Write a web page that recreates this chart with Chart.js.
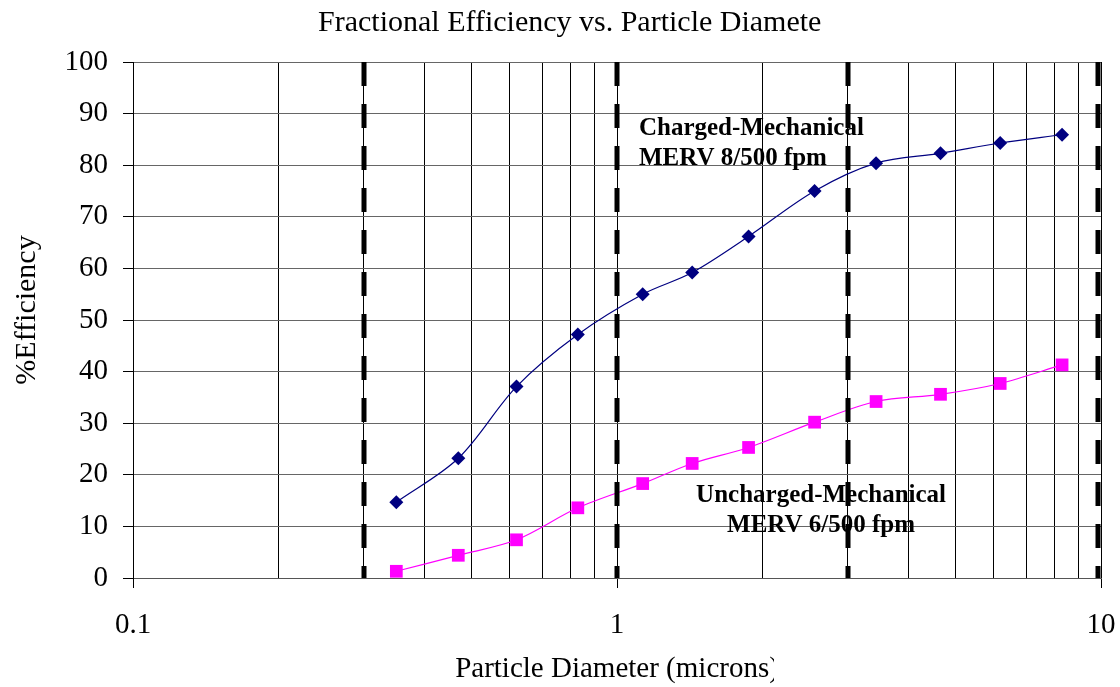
<!DOCTYPE html>
<html>
<head>
<meta charset="utf-8">
<script src="https://cdn.jsdelivr.net/npm/chart.js@4.4.1/dist/chart.umd.min.js"></script>
<style>
  html, body { margin: 0; padding: 0; background: #fff; }
  #wrap { width: 1120px; height: 687px; }
</style>
</head>
<body>
<div id="wrap"><canvas id="chart" width="1120" height="687"></canvas></div>
<script>
// particle diameters (microns) of each measured size bin
const diameters = [0.35, 0.47, 0.62, 0.83, 1.13, 1.43, 1.87, 2.56, 3.43, 4.66, 6.19, 8.31];
const chargedEff = [14.7, 23.2, 37.1, 47.2, 55.0, 59.2, 66.2, 75.0, 80.4, 82.3, 84.3, 85.9];
const unchargedEff = [1.3, 4.4, 7.4, 13.6, 18.3, 22.2, 25.3, 30.2, 34.2, 35.6, 37.7, 41.3];

// log axis grid lines, labelled ticks and heavy dashed reference lines
const xGridValues = [0.1, 0.2, 0.3, 0.4, 0.5, 0.6, 0.7, 0.8, 0.9, 1, 2, 3, 4, 5, 6, 7, 8, 9, 10];
const xTickValues = [0.1, 1, 10];
const xTickLabels = ['0.1', '1', '10'];
const dashedValues = [0.3, 1, 3, 10];

const chartTitle = 'Fractional Efficiency vs. Particle Diameter';
const xTitle = 'Particle Diameter (microns)';
const yTitle = '%Efficiency';

const chargedLabel = ['Charged-Mechanical', 'MERV 8/500 fpm'];
const unchargedLabel = ['Uncharged-Mechanical', 'MERV 6/500 fpm'];

const serif = '"Liberation Serif", "Times New Roman", serif';

const overlay = {
    id: 'overlay',
    afterDatasetsDraw(chart) {
        const { ctx, chartArea, scales } = chart;
        const x = scales.x, y = scales.y;

        ctx.save();
        // series labels
        ctx.fillStyle = '#000';
        ctx.font = 'bold 25px ' + serif;
        ctx.textBaseline = 'alphabetic';
        ctx.textAlign = 'left';
        let px = x.getPixelForValue(1.11);
        let py = y.getPixelForValue(85.8);
        chargedLabel.forEach((t, i) => ctx.fillText(t, px, py + i * 30));

        ctx.textAlign = 'center';
        px = x.getPixelForValue(2.64);
        py = y.getPixelForValue(14.7);
        unchargedLabel.forEach((t, i) => ctx.fillText(t, px, py + i * 30));

        // heavy dashed lines
        ctx.strokeStyle = '#000';
        ctx.lineWidth = 5;
        ctx.setLineDash([24, 18]);
        dashedValues.forEach(v => {
            const lx = Math.min(Math.round(x.getPixelForValue(v)), chartArea.right - 3);
            ctx.beginPath();
            ctx.moveTo(lx, chartArea.top);
            ctx.lineTo(lx, chartArea.bottom);
            ctx.stroke();
        });
        ctx.restore();
    },
    afterDraw(chart) {
        const { ctx, chartArea } = chart;
        ctx.save();
        ctx.fillStyle = '#000';
        ctx.textBaseline = 'alphabetic';

        // chart title, cut off on the right like the original
        ctx.save();
        ctx.beginPath();
        ctx.rect(0, 0, 822, 50);
        ctx.clip();
        ctx.font = '30px ' + serif;
        ctx.textAlign = 'left';
        ctx.fillText(chartTitle, 318, 31);
        ctx.restore();

        // x axis title, also cut off
        ctx.save();
        ctx.beginPath();
        ctx.rect(0, 640, 774, 47);
        ctx.clip();
        ctx.font = '29px ' + serif;
        ctx.textAlign = 'center';
        ctx.fillText(xTitle, (chartArea.left + chartArea.right) / 2, 677);
        ctx.restore();

        // y axis title
        ctx.translate(27, 310);
        ctx.rotate(-Math.PI / 2);
        ctx.font = '30px ' + serif;
        ctx.textAlign = 'center';
        ctx.textBaseline = 'middle';
        ctx.fillText(yTitle, 0, 0);
        ctx.restore();
    }
};

const isMajor = v => xTickValues.includes(v);

new Chart(document.getElementById('chart'), {
    type: 'line',
    data: {
        datasets: [
            {
                label: 'Charged-Mechanical MERV 8/500 fpm',
                data: diameters.map((d, i) => ({ x: d, y: chargedEff[i] })),
                borderColor: '#000080',
                backgroundColor: '#000080',
                borderWidth: 1.2,
                pointStyle: 'rectRot',
                pointRadius: 7,
                pointBorderWidth: 0,
                tension: 0.33
            },
            {
                label: 'Uncharged-Mechanical MERV 6/500 fpm',
                data: diameters.map((d, i) => ({ x: d, y: unchargedEff[i] })),
                borderColor: '#ff00ff',
                backgroundColor: '#ff00ff',
                borderWidth: 1.2,
                pointStyle: 'rect',
                pointRadius: 9,
                pointBorderWidth: 0,
                tension: 0.33
            }
        ]
    },
    options: {
        responsive: false,
        animation: false,
        layout: { padding: { top: 62, right: 19, bottom: 0, left: 0 } },
        plugins: {
            legend: { display: false },
            tooltip: { enabled: false },
            title: { display: false }
        },
        scales: {
            x: {
                type: 'logarithmic',
                min: 0.1,
                max: 10,
                afterBuildTicks: scale => {
                    scale.ticks = xGridValues.map(v => ({ value: v, major: isMajor(v) }));
                },
                afterFit: scale => {
                    scale.height = 109;
                    scale.paddingLeft = 0;
                    scale.paddingRight = 0;
                },
                ticks: {
                    autoSkip: false,
                    maxRotation: 0,
                    padding: 20,
                    color: '#000',
                    font: { family: serif, size: 29 },
                    callback: v => {
                        const i = xTickValues.indexOf(v);
                        return i >= 0 ? xTickLabels[i] : '';
                    }
                },
                grid: {
                    color: '#000',
                    lineWidth: 1,
                    tickLength: 10,
                    tickColor: c => (c.tick && isMajor(c.tick.value)) ? '#000' : 'rgba(0,0,0,0)'
                },
                border: { color: '#555', width: 1 }
            },
            y: {
                min: 0,
                max: 100,
                afterFit: scale => { scale.width = 133; },
                ticks: {
                    stepSize: 10,
                    padding: 15,
                    color: '#000',
                    font: { family: serif, size: 29 }
                },
                grid: {
                    color: '#666',
                    lineWidth: 1,
                    tickLength: 10,
                    tickColor: '#000'
                },
                border: { color: '#000', width: 1 }
            }
        }
    },
    plugins: [overlay]
});
</script>
</body>
</html>
